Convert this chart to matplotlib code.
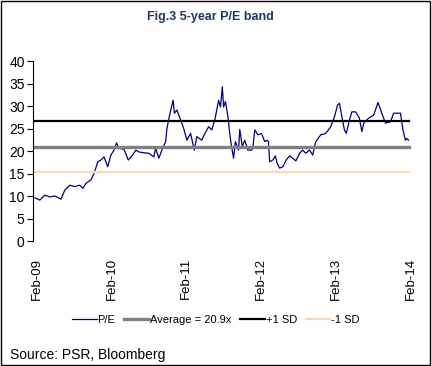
import numpy as np
import matplotlib.pyplot as plt
from matplotlib.patches import Rectangle

# months since Feb-09
months = [-0.3, 0.5, 1.3, 2.1, 2.9, 3.9, 4.5, 5.3, 6.1, 6.9, 7.4, 7.9, 8.7, 9.2, 9.8,
          10.3, 10.8, 11.4, 11.9, 12.4, 12.8, 13.2, 14.0, 14.7, 15.4, 15.9, 16.4, 17.2,
          18.0, 18.8, 19.1, 19.6, 20.1, 20.7, 20.9, 21.4, 21.9, 22.1, 22.5, 23.1, 23.6,
          24.1, 24.7, 25.3, 25.7, 26.5, 27.0, 27.6, 28.1, 28.6, 29.2, 29.5, 29.8, 30.0,
          30.3, 30.7, 30.9, 31.2, 31.6, 31.9, 32.4, 32.6, 33.0, 33.4, 33.9, 34.5, 34.7,
          35.0, 35.5, 36.1, 36.6, 37.0, 37.2, 37.4, 37.9, 38.3, 38.6, 39.0, 39.5, 40.1,
          40.6, 41.1, 41.6, 42.2, 42.7, 43.2, 43.8, 44.3, 44.8, 45.6, 46.4, 47.2, 47.8,
          48.3, 48.6, 49.0, 49.4, 49.7, 50.2, 50.6, 51.2, 51.8, 52.2, 52.5, 53.3, 54.1,
          54.8, 55.5, 56.0, 56.8, 57.3, 58.4, 58.8, 59.2, 59.4, 59.7]
pe = [9.6, 9.1, 10.2, 9.8, 10.0, 9.3, 11.3, 12.4, 12.1, 12.4, 11.7, 12.8, 13.6, 15.0, 17.6,
      18.0, 18.7, 16.5, 19.1, 20.2, 21.8, 20.6, 20.4, 18.0, 19.1, 20.2, 19.8, 19.6,
      19.5, 18.7, 20.6, 18.4, 20.2, 22.1, 25.0, 28.4, 31.3, 28.4, 29.1, 26.9, 25.0,
      22.4, 23.9, 20.2, 23.2, 22.4, 23.9, 25.4, 24.7, 26.9, 31.3, 29.8, 34.3, 29.8,
      31.0, 27.6, 25.0, 21.7, 18.4, 22.1, 20.2, 24.8, 21.0, 22.4, 20.2, 20.2, 20.6,
      24.7, 23.6, 23.9, 22.1, 22.4, 22.1, 17.6, 18.0, 18.9, 17.3, 16.2, 16.5, 18.1,
      18.9, 18.4, 17.8, 19.5, 20.2, 19.5, 20.2, 19.1, 22.1, 23.6, 23.9, 25.4, 27.6,
      30.2, 30.6, 27.6, 24.7, 23.9, 26.9, 28.7, 28.7, 27.3, 24.3, 26.2, 27.3, 28.0,
      30.8, 28.0, 26.2, 26.5, 28.4, 28.4, 24.7, 22.4, 22.8, 22.4]

average = 20.9
plus_sd = 26.6
minus_sd = 15.3

tick_months = [0, 12, 24, 36, 48, 60]
tick_labels = ['Feb-09', 'Feb-10', 'Feb-11', 'Feb-12', 'Feb-13', 'Feb-14']

plt.rcParams['font.family'] = ['Liberation Sans', 'DejaVu Sans']

fig = plt.figure(figsize=(4.32, 3.66), dpi=100)
ax = fig.add_axes([0.0764, 0.3415, 0.878, 0.4918])

span = [months[0], months[-1]]
ax.plot(months, pe, color='#000080', lw=0.9, label='P/E')
ax.plot(span, [average, average], color='#808080', lw=2.4, label='Average = 20.9x')
ax.plot(span, [plus_sd, plus_sd], color='black', lw=1.6, label='+1 SD')
ax.plot(span, [minus_sd, minus_sd], color='#FAD7B5', lw=1.6, label='-1 SD')

ax.set_xlim(-0.6, 60.3)
ax.set_ylim(0, 40)
ax.set_yticks(range(0, 41, 5))
ax.set_xticks(tick_months)
ax.set_xticklabels(tick_labels, rotation=90)
ax.tick_params(axis='y', direction='out', length=4, labelsize=10, pad=2)
ax.tick_params(axis='x', length=0, labelsize=9.5, pad=12)
for s in ['top', 'right', 'bottom']:
    ax.spines[s].set_visible(False)
ax.spines['left'].set_linewidth(0.8)

fig.text(0.486, 0.953, 'Fig.3 5-year P/E band', ha='center', va='center',
         fontsize=9, fontweight='bold', color='#1F3864')
fig.legend(loc='center', bbox_to_anchor=(0.5, 0.126), ncol=4, frameon=False,
           fontsize=8, handlelength=2.2, handletextpad=0.1, columnspacing=0.8)
fig.text(0.023, 0.03, 'Source: PSR, Bloomberg', fontsize=10, va='center')
fig.patches.append(Rectangle((0.002, 0.004), 0.994, 0.992, transform=fig.transFigure,
                             fill=False, edgecolor='black', lw=1))

plt.savefig('out.png', dpi=100)
